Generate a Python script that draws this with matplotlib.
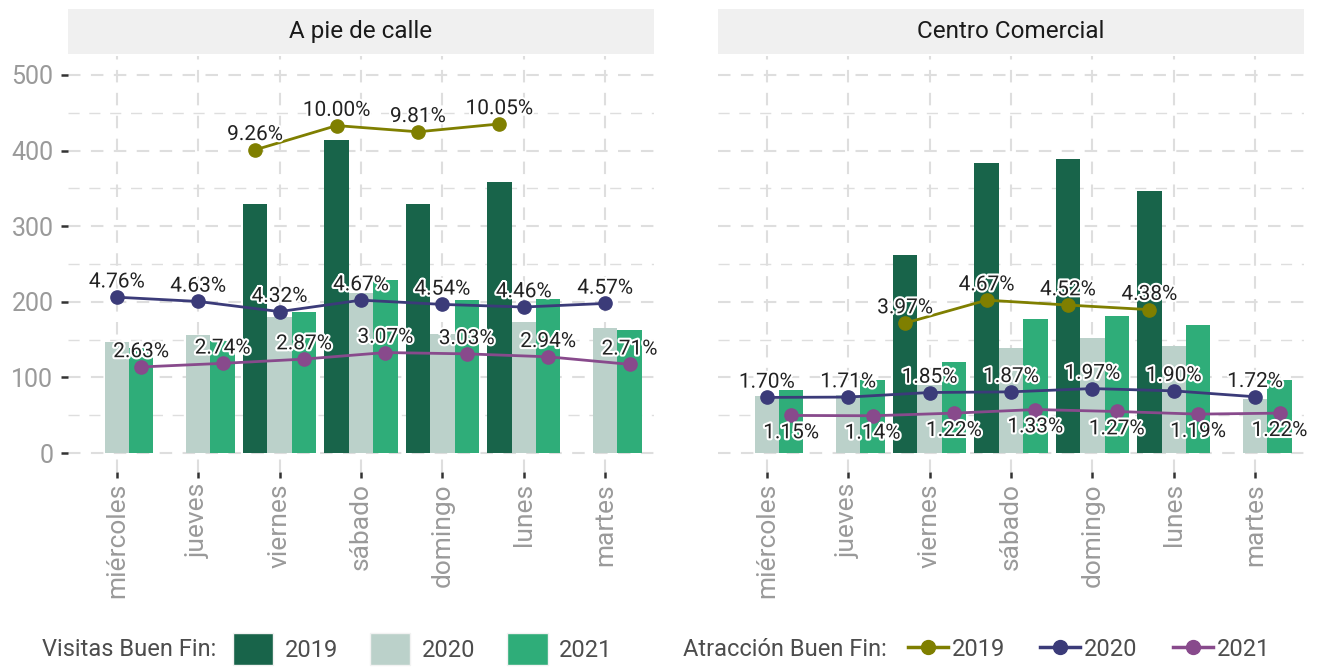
import matplotlib
matplotlib.use("Agg")
import matplotlib.pyplot as plt
import matplotlib.patheffects as pe
from matplotlib.lines import Line2D
from matplotlib.patches import Patch
import numpy as np

plt.rcParams["font.family"] = ["Roboto", "DejaVu Sans"]

DAYS = ["miércoles", "jueves", "viernes", "sábado", "domingo", "lunes", "martes"]
YEARS = ["2019", "2020", "2021"]
PANELS = ["A pie de calle", "Centro Comercial"]

# visitas (barras)
calle_2019 = [np.nan, np.nan, 329, 414, 329, 359, np.nan]
calle_2020 = [147, 156, 180, 211, 158, 173, 166]
calle_2021 = [139, 148, 186, 229, 202, 204, 163]

cc_2019 = [np.nan, np.nan, 262, 384, 389, 347, np.nan]
cc_2020 = [76, 77, 90, 139, 152, 142, 71]
cc_2021 = [84, 97, 120, 177, 181, 169, 96]

# atraccion (%) -> lineas
calle_pct_2019 = [np.nan, np.nan, 9.26, 10.00, 9.81, 10.05, np.nan]
calle_pct_2020 = [4.76, 4.63, 4.32, 4.67, 4.54, 4.46, 4.57]
calle_pct_2021 = [2.63, 2.74, 2.87, 3.07, 3.03, 2.94, 2.71]

cc_pct_2019 = [np.nan, np.nan, 3.97, 4.67, 4.52, 4.38, np.nan]
cc_pct_2020 = [1.70, 1.71, 1.85, 1.87, 1.97, 1.90, 1.72]
cc_pct_2021 = [1.15, 1.14, 1.22, 1.33, 1.27, 1.19, 1.22]

PCT_SCALE = 43.3

BAR_COLORS = {"2019": "#18644A", "2020": "#BBD1CA", "2021": "#2FAD79"}
LINE_COLORS = {"2019": "#7F7F00", "2020": "#3B3B79", "2021": "#884A8C"}

bars = {
    "A pie de calle": {"2019": calle_2019, "2020": calle_2020, "2021": calle_2021},
    "Centro Comercial": {"2019": cc_2019, "2020": cc_2020, "2021": cc_2021},
}
pcts = {
    "A pie de calle": {"2019": calle_pct_2019, "2020": calle_pct_2020, "2021": calle_pct_2021},
    "Centro Comercial": {"2019": cc_pct_2019, "2020": cc_pct_2020, "2021": cc_pct_2021},
}
# etiqueta 2021 debajo del punto en centro comercial
label_below = {("Centro Comercial", "2021")}

W, H = 1326, 668
fig = plt.figure(figsize=(W / 100, H / 100), dpi=100)

panel_left = [68, 718]
panel_w = 586
panel_top, panel_bottom = 56, 472
strip_top, strip_bottom = 9, 54

x = np.arange(len(DAYS))
offsets = {"2019": -0.3, "2020": 0.0, "2021": 0.3}
grid_color = "#DEDEDE"
tick_gray = "#9A9A9A"

for i, panel in enumerate(PANELS):
    l = panel_left[i] / W
    ax = fig.add_axes([l, 1 - panel_bottom / H, panel_w / W, (panel_bottom - panel_top) / H])
    sax = fig.add_axes([l, 1 - strip_bottom / H, panel_w / W, (strip_bottom - strip_top) / H])
    sax.set_facecolor("#F0F0F0")
    sax.set_xticks([])
    sax.set_yticks([])
    for s in sax.spines.values():
        s.set_visible(False)
    sax.text(0.5, 0.5, panel, ha="center", va="center", fontsize=17.5, color="#1A1A1A",
             transform=sax.transAxes)

    for yr in YEARS:
        ax.bar(x + offsets[yr], bars[panel][yr], width=0.3, color=BAR_COLORS[yr], zorder=2)

    for yr in YEARS:
        vals = np.array(pcts[panel][yr], dtype=float)
        yy = vals * PCT_SCALE
        ax.plot(x + offsets[yr], yy, color=LINE_COLORS[yr], lw=2.0, marker="o", ms=9.5, zorder=3)
        dy = -12.5 if (panel, yr) in label_below else 11
        for xi, v, yv in zip(x + offsets[yr], vals, yy):
            if np.isnan(v):
                continue
            t = ax.annotate(f"{v:.2f}%", (xi, yv), xytext=(0, dy), textcoords="offset points",
                            ha="center", va="center", fontsize=15, color="#222222", zorder=4)
            t.set_path_effects([pe.withStroke(linewidth=3, foreground="white")])

    ax.set_xlim(-0.6, 6.6)
    ax.set_ylim(-25, 525)
    ax.set_xticks(x)
    ax.set_xticklabels(DAYS, rotation=90, fontsize=19, color=tick_gray)
    ax.set_yticks([0, 100, 200, 300, 400, 500])
    ax.set_yticks([50, 150, 250, 350, 450], minor=True)
    ax.tick_params(axis="x", length=4.5, width=1.8, color="#333333", pad=3.5)
    if i == 0:
        ax.tick_params(axis="y", which="major", length=5, width=1.8, color="#333333",
                       labelsize=18, labelcolor=tick_gray, pad=5.5)
    else:
        ax.tick_params(axis="y", which="major", length=0, labelleft=False)
    ax.tick_params(axis="y", which="minor", length=0)
    ax.grid(True, which="major", axis="both", color=grid_color, lw=1.5, ls=(0, (6, 5)), zorder=0)
    ax.grid(True, which="minor", axis="y", color=grid_color, lw=1.0, ls=(0, (8, 7)), zorder=0)
    ax.set_axisbelow(True)
    for s in ax.spines.values():
        s.set_visible(False)

# leyendas
legend_y = 1 - 649 / H
fig.text(42 / W, legend_y, "Visitas Buen Fin:", ha="left", va="center", fontsize=17, color="#4D4D4D")
bar_handles = [Patch(facecolor=BAR_COLORS[yr], edgecolor="#F2F2F2") for yr in YEARS]
fig.legend(bar_handles, YEARS, loc="center left", bbox_to_anchor=(233 / W, legend_y),
           ncol=3, frameon=False, fontsize=17, handlelength=1.7, handleheight=1.7,
           handletextpad=0.5, columnspacing=1.35, borderpad=0, borderaxespad=0,
           labelcolor="#4D4D4D")

fig.text(683 / W, legend_y, "Atracción Buen Fin:", ha="left", va="center", fontsize=17, color="#4D4D4D")
line_handles = [Line2D([0], [0], color=LINE_COLORS[yr], lw=2.5, marker="o", ms=10) for yr in YEARS]
fig.legend(line_handles, YEARS, loc="center left", bbox_to_anchor=(908 / W, legend_y),
           ncol=3, frameon=False, fontsize=17, handlelength=1.7,
           handletextpad=0.15, columnspacing=1.5, borderpad=0, borderaxespad=0,
           labelcolor="#4D4D4D")

fig.savefig("out.png", dpi=100)
